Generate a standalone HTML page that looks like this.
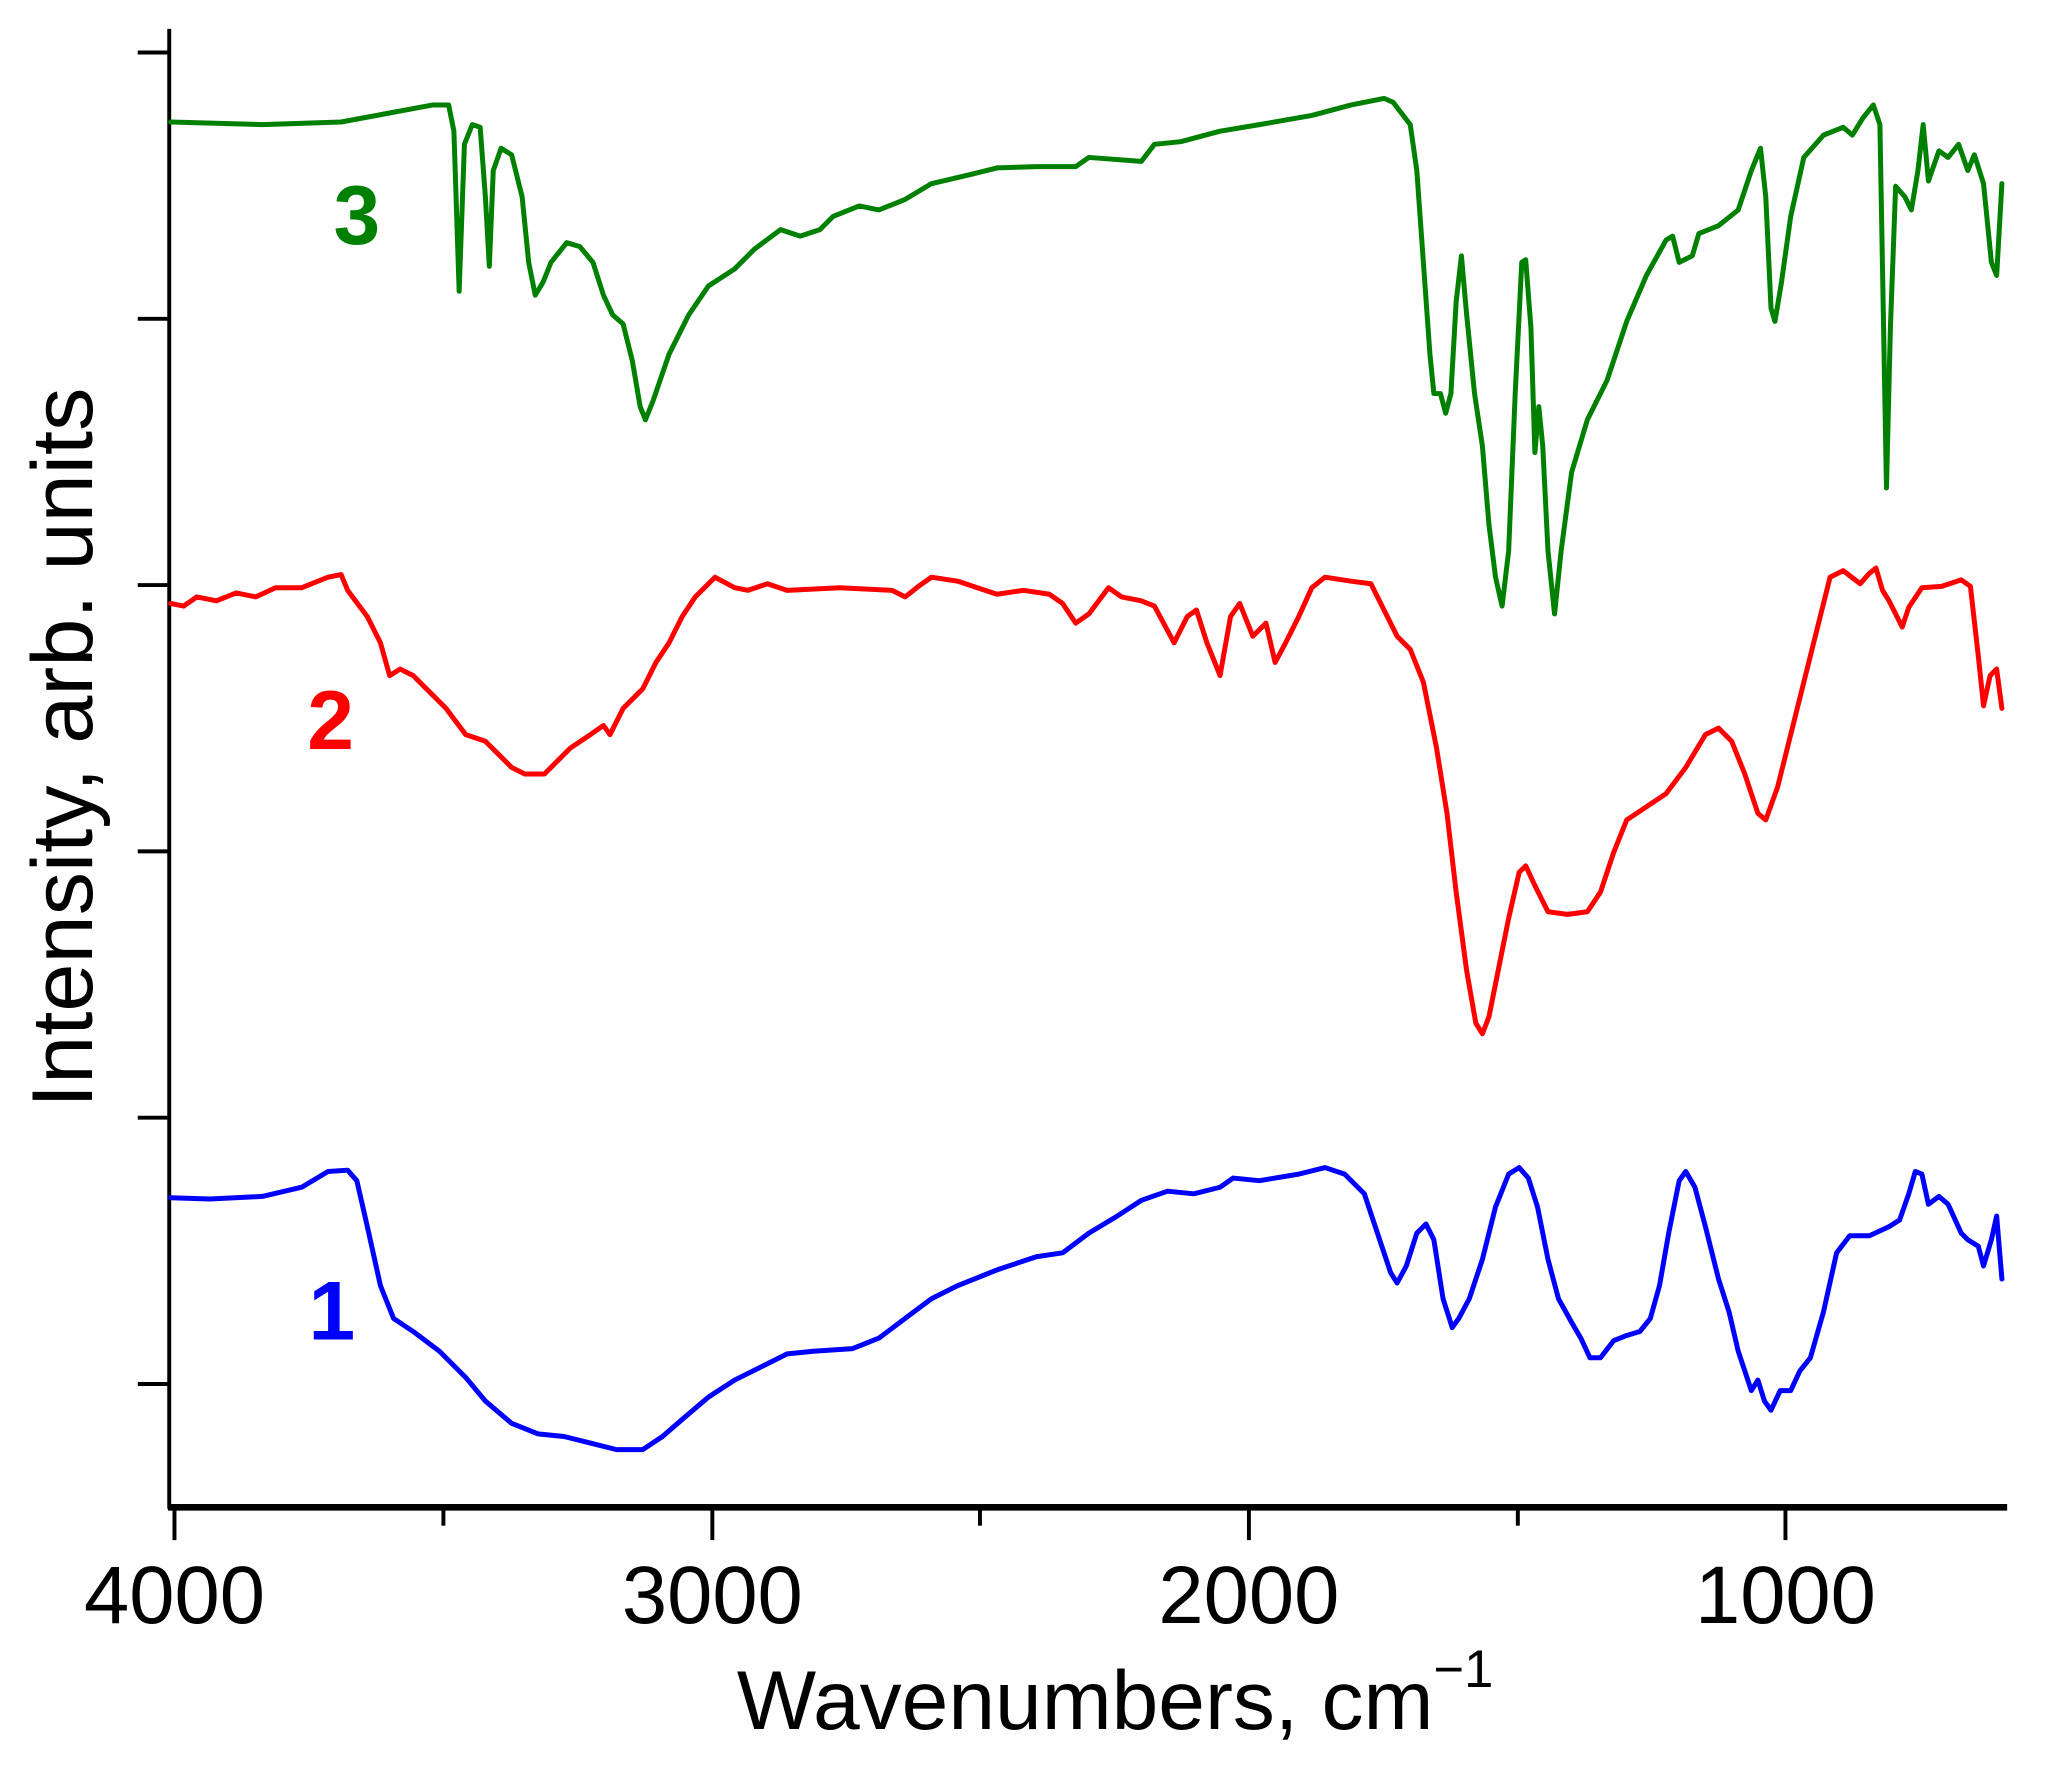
<!DOCTYPE html>
<html><head><meta charset="utf-8"><style>
html,body{margin:0;padding:0;background:#fff;}
svg{display:block;}
text{font-family:"Liberation Sans",Arial,sans-serif;}
</style></head><body>
<svg width="2057" height="1768" viewBox="0 0 1568 1347.7" xmlns="http://www.w3.org/2000/svg">
<rect width="1568" height="1348" fill="#fefefe"/>
<line x1="129" y1="22" x2="129" y2="1150" stroke="#000" stroke-width="3"/>
<line x1="128" y1="1149" x2="1530" y2="1149" stroke="#000" stroke-width="5"/>
<g stroke="#000" stroke-width="3">
<line x1="105" y1="40" x2="129" y2="40"/>
<line x1="105" y1="243" x2="129" y2="243"/>
<line x1="105" y1="446" x2="129" y2="446"/>
<line x1="105" y1="649" x2="129" y2="649"/>
<line x1="105" y1="852" x2="129" y2="852"/>
<line x1="105" y1="1055" x2="129" y2="1055"/>
<line x1="133" y1="1149" x2="133" y2="1174"/>
<line x1="338" y1="1149" x2="338" y2="1163"/>
<line x1="543" y1="1149" x2="543" y2="1174"/>
<line x1="747" y1="1149" x2="747" y2="1163"/>
<line x1="952" y1="1149" x2="952" y2="1174"/>
<line x1="1157" y1="1149" x2="1157" y2="1163"/>
<line x1="1361" y1="1149" x2="1361" y2="1174"/>
</g>
<g font-size="62" fill="#000" text-anchor="middle">
<text x="133" y="1237">4000</text>
<text x="543" y="1237">3000</text>
<text x="952" y="1237">2000</text>
<text x="1361" y="1237">1000</text>
</g>
<text x="850" y="1318" font-size="64" text-anchor="middle">Wavenumbers, cm<tspan font-size="40" dy="-32">−1</tspan></text>
<text transform="translate(70,570) rotate(-90)" font-size="66" text-anchor="middle">Intensity, arb. units</text>
<g font-size="64" font-weight="bold" text-anchor="middle">
<text x="272" y="186" fill="#008000">3</text>
<text x="252" y="571" fill="#ff0000">2</text>
<text x="253" y="1021" fill="#0000ff">1</text>
</g>
<g fill="none" stroke-width="3.8" stroke-linejoin="round" stroke-linecap="round">
<polyline stroke="#008000" points="130,93 200,95 260,93 330,80 342,80 346,100 350,222 354,110 360,95 366,97 370,150 373,203 376,130 382,113 390,118 398,150 403,200 408,225 414,215 420,200 432,185 442,188 452,200 460,225 467,240 475,247 482,275 488,310 492,320 498,305 510,270 525,240 540,218 560,205 575,190 595,175 610,180 625,175 635,165 655,157 670,160 690,152 710,140 740,133 760,128 790,127 820,127 830,120 870,123 880,110 900,108 930,100 960,95 1000,88 1030,80 1055,75 1062,78 1075,95 1080,130 1085,200 1090,270 1093,300 1098,300 1102,315 1106,300 1110,230 1114,195 1118,240 1124,300 1130,340 1135,400 1140,440 1145,462 1150,420 1155,300 1160,200 1163,198 1167,250 1170,345 1173,310 1176,340 1180,420 1185,468 1190,420 1198,360 1210,320 1225,290 1240,245 1255,210 1270,183 1275,180 1280,200 1290,195 1295,178 1310,172 1325,160 1335,130 1342,113 1346,150 1350,235 1353,245 1358,215 1365,165 1375,120 1390,103 1405,97 1412,103 1420,90 1428,80 1433,95 1436,260 1438,372 1441,250 1445,142 1452,150 1457,160 1462,130 1466,95 1470,138 1478,115 1485,120 1493,110 1500,130 1505,118 1512,140 1518,200 1522,210 1526,140"/>
<polyline stroke="#ff0000" points="130,460 140,462 150,455 165,458 180,452 195,455 210,448 230,448 250,440 260,438 265,450 280,470 290,490 297,515 305,510 315,515 325,525 340,540 355,560 370,565 380,575 390,585 400,590 415,590 425,580 435,570 450,560 460,553 465,560 475,540 490,525 500,505 510,490 520,470 530,455 545,440 560,448 570,450 585,445 600,450 640,448 680,450 690,455 700,447 710,440 730,443 745,448 760,453 780,450 800,453 810,460 820,475 830,468 845,448 855,455 870,458 880,462 895,490 905,470 912,465 920,490 930,515 938,470 945,460 955,485 965,475 972,505 980,490 990,470 1000,448 1010,440 1030,443 1045,445 1055,465 1065,485 1075,495 1085,520 1095,570 1103,620 1110,680 1118,740 1125,780 1130,788 1135,775 1142,740 1150,700 1158,665 1163,660 1170,675 1180,695 1195,697 1210,695 1220,680 1230,650 1240,625 1255,615 1270,605 1285,585 1300,560 1310,555 1320,565 1330,590 1340,620 1346,625 1355,600 1370,540 1385,480 1395,440 1405,435 1418,445 1425,437 1430,433 1435,450 1440,458 1450,478 1455,463 1465,448 1480,447 1495,442 1502,447 1508,500 1512,538 1517,515 1522,510 1526,540"/>
<polyline stroke="#0000ff" points="130,913 160,914 200,912 230,905 250,893 265,892 272,900 280,935 290,980 300,1005 315,1015 335,1030 355,1050 370,1068 390,1085 410,1093 430,1095 450,1100 470,1105 490,1105 505,1095 520,1082 540,1065 560,1052 580,1042 600,1032 620,1030 650,1028 670,1020 690,1005 710,990 730,980 760,968 790,958 810,955 830,940 850,928 870,915 890,908 910,910 930,905 940,898 960,900 990,895 1010,890 1025,895 1040,910 1050,940 1060,970 1065,978 1072,965 1080,940 1087,933 1093,945 1100,990 1107,1012 1112,1005 1120,990 1130,960 1140,920 1150,895 1158,890 1165,898 1172,920 1180,960 1188,990 1198,1008 1205,1020 1212,1035 1220,1035 1230,1022 1240,1018 1250,1015 1258,1005 1265,980 1272,940 1280,900 1285,893 1292,905 1300,935 1310,975 1318,1000 1325,1030 1335,1060 1340,1052 1345,1068 1350,1075 1357,1060 1365,1060 1372,1045 1380,1035 1390,1000 1400,955 1410,942 1425,942 1440,935 1448,930 1455,910 1460,893 1465,895 1470,918 1478,912 1485,918 1495,940 1500,945 1508,950 1512,965 1518,945 1522,927 1526,975"/>
</g>
</svg>
</body></html>
